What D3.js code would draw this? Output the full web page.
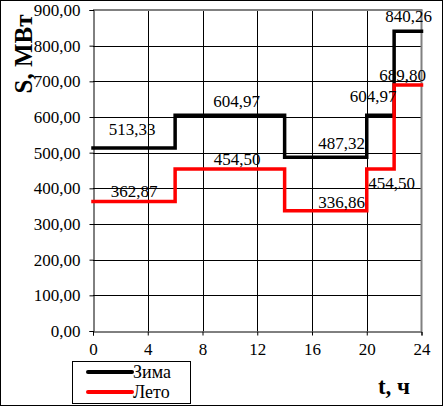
<!DOCTYPE html>
<html>
<head>
<meta charset="utf-8">
<script src="https://cdn.jsdelivr.net/npm/d3@7/dist/d3.min.js"></script>
</head>
<body style="margin:0">
<svg id="chart" width="444" height="407" font-family="Liberation Serif"></svg>
<script>
// ---- data ----
const stepStarts = [0, 6, 14, 20, 22];
const stepEnd = 24;
const winterValues = [513.33, 604.97, 487.32, 604.97, 840.26];
const summerValues = [362.87, 454.50, 336.86, 454.50, 689.80];
const seriesNames = ["Зима", "Лето"];
const xTicks = [0, 4, 8, 12, 16, 20, 24];
const yTicks = [0, 100, 200, 300, 400, 500, 600, 700, 800, 900];
const yTitle = "S, МВт";
const xTitle = "t, ч";

// label anchor (x in hours) and vertical offset of baseline (px) from the line
const winterLabelX = [2.85, 10.49, 18.17, 20.47, 23.06];
const winterLabelDy = [-13, -8, -8, -13, -9];
const summerLabelX = [3.0, 10.53, 18.17, 21.82, 22.62];
const summerLabelDy = [-4.5, -4, -3, 20, -4];

// ---- layout ----
const FONT = "Liberation Serif";
const svg = d3.select("#chart");
const pL = 93, pR = 421.5, pT = 10, pB = 331;
const x = d3.scaleLinear().domain([0, 24]).range([pL, pR]);
const y = d3.scaleLinear().domain([0, 900]).range([pB, pT]);
const locale = d3.formatLocale({decimal: ",", thousands: " ", grouping: [3], currency: ["", ""]});
const fmt = locale.format(".2f");

// outer border
svg.append("rect").attr("x", 0.5).attr("y", 0.5).attr("width", 442).attr("height", 405)
  .attr("fill", "#fff").attr("stroke", "#000").attr("stroke-width", 1);

// gridlines
const g = svg.append("g");
g.selectAll("line.hg").data(yTicks.filter(d => d > 0 && d < 900)).join("line")
  .attr("x1", pL).attr("x2", pR)
  .attr("y1", d => Math.round(y(d)) + 0.5).attr("y2", d => Math.round(y(d)) + 0.5)
  .attr("stroke", "#000").attr("stroke-width", 1);
g.selectAll("line.vg").data(xTicks.filter(d => d > 0 && d < 24)).join("line")
  .attr("y1", pT).attr("y2", pB)
  .attr("x1", d => Math.round(x(d)) + 0.5).attr("x2", d => Math.round(x(d)) + 0.5)
  .attr("stroke", "#000").attr("stroke-width", 1);

// plot border top/right (gray)
svg.append("line").attr("x1", pL).attr("x2", pR + 1).attr("y1", pT).attr("y2", pT)
  .attr("stroke", "#808080").attr("stroke-width", 2);
svg.append("line").attr("x1", pR).attr("x2", pR).attr("y1", pT).attr("y2", pB)
  .attr("stroke", "#808080").attr("stroke-width", 2);

// axes
const yAxis = d3.axisLeft(y).tickValues(yTicks).tickSize(4).tickPadding(9).tickFormat(fmt);
const xAxis = d3.axisBottom(x).tickValues(xTicks).tickSize(4).tickPadding(7).tickFormat(d3.format("d"));
const ya = svg.append("g").attr("transform", `translate(${pL + 0.5},0)`).call(yAxis);
const xa = svg.append("g").attr("transform", `translate(0,${pB + 0.5})`).call(xAxis);
[ya, xa].forEach(a => {
  a.attr("font-family", FONT).attr("font-size", 17);
  a.select(".domain").attr("stroke", "#000");
  a.selectAll(".tick line").attr("stroke", "#000");
  a.selectAll("text").attr("font-family", FONT).attr("font-size", 17).attr("fill", "#000");
});

// step lines
function points(vals) {
  const p = stepStarts.map((s, i) => [s, vals[i]]);
  p.push([stepEnd, vals[vals.length - 1]]);
  return p;
}
const line = d3.line().x(d => x(d[0])).y(d => y(d[1])).curve(d3.curveStepAfter);
const series = [
  {name: seriesNames[0], vals: winterValues, color: "#000", lx: winterLabelX, ldy: winterLabelDy},
  {name: seriesNames[1], vals: summerValues, color: "#ff0000", lx: summerLabelX, ldy: summerLabelDy}
];
series.forEach(s => {
  svg.append("path").attr("d", line(points(s.vals)))
    .attr("fill", "none").attr("stroke", s.color).attr("stroke-width", 3.5)
    .attr("stroke-linejoin", "miter").attr("stroke-linecap", "square");
});
series.forEach(s => {
  svg.append("g").selectAll("text").data(s.vals).join("text")
    .attr("x", (d, i) => x(s.lx[i]))
    .attr("y", (d, i) => y(d) + s.ldy[i])
    .attr("text-anchor", "middle")
    .attr("font-family", FONT).attr("font-size", 17)
    .text(d => fmt(d));
});

// axis titles
svg.append("text").attr("transform", "translate(32,54) rotate(-90)")
  .attr("text-anchor", "middle")
  .attr("font-family", FONT).attr("font-size", 25).attr("font-weight", "bold").text(yTitle);
svg.append("text").attr("x", 394).attr("y", 394)
  .attr("text-anchor", "middle")
  .attr("font-family", FONT).attr("font-size", 23).attr("font-weight", "bold").text(xTitle);

// legend
const lg = svg.append("g");
lg.append("rect").attr("x", 72.5).attr("y", 361.5).attr("width", 118).attr("height", 42)
  .attr("fill", "#fff").attr("stroke", "#000").attr("stroke-width", 1);
series.forEach((s, i) => {
  const ly = 372 + i * 20;
  lg.append("line").attr("x1", 88).attr("x2", 132).attr("y1", ly).attr("y2", ly)
    .attr("stroke", s.color).attr("stroke-width", 4).attr("stroke-linecap", "round");
  lg.append("text").attr("x", 133).attr("y", ly + 6)
    .attr("font-family", FONT).attr("font-size", 18).text(s.name);
});
</script>
</body>
</html>
